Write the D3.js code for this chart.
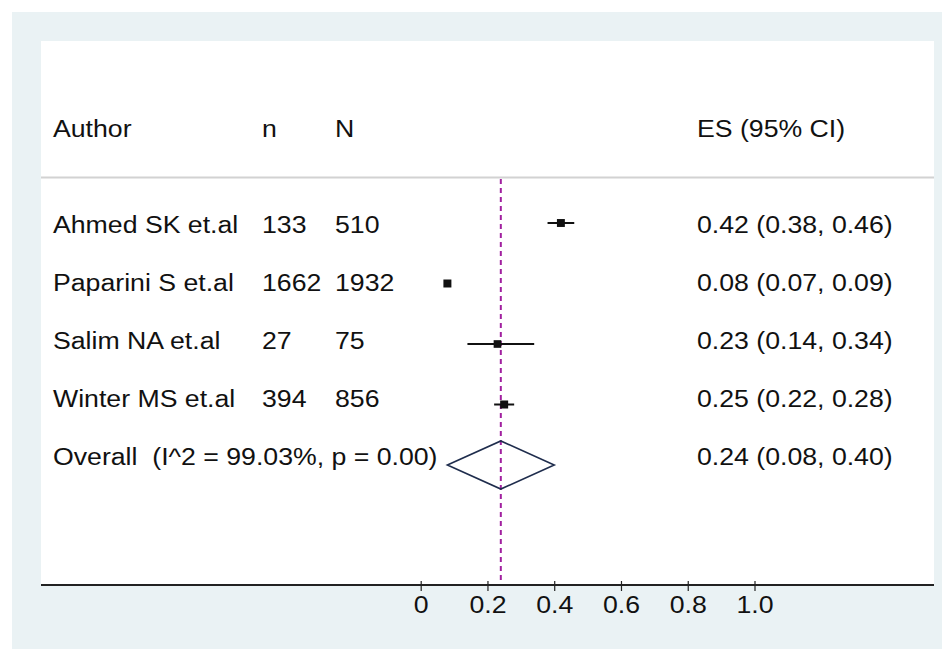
<!DOCTYPE html>
<html>
<head>
<meta charset="utf-8">
<script src="https://cdn.jsdelivr.net/npm/d3@7"></script>
<style>
  html, body { margin: 0; padding: 0; background: #ffffff; }
  svg { display: block; }
  text { font-family: "Liberation Sans", Arial, sans-serif; fill: #111; white-space: pre; }
</style>
</head>
<body>
<svg id="chart" width="942" height="649"></svg>
<script>
// ---------- data ----------
const authors = ["Ahmed SK et.al", "Paparini S et.al", "Salim NA et.al", "Winter MS et.al"];
const nCases = [133, 1662, 27, 394];
const nTotal = [510, 1932, 75, 856];
const es = [0.42, 0.08, 0.23, 0.25];
const ciLow = [0.38, 0.07, 0.14, 0.22];
const ciHigh = [0.46, 0.09, 0.34, 0.28];
const weights = [25.2, 25.6, 23.5, 25.7];
const overallLabel = "Overall  (I^2 = 99.03%, p = 0.00)";
const overallES = 0.24, overallLow = 0.08, overallHigh = 0.40;
const headers = ["Author", "n", "N", "ES (95% CI)"];
const tickValues = [0, 0.2, 0.4, 0.6, 0.8, 1.0];
const tickLabels = ["0", "0.2", "0.4", "0.6", "0.8", "1.0"];

// ---------- layout ----------
const W = 942, H = 649;
const svg = d3.select("#chart");
const SX = 1.16;           // horizontal stretch of glyphs in the reference
const FS = 23;

svg.append("rect").attr("x", 12).attr("y", 12).attr("width", W - 12).attr("height", H - 12).attr("fill", "#eaf2f4");
const plotL = 41, plotR = 934, plotT = 41, axisY = 585;
svg.append("rect").attr("x", plotL).attr("y", plotT).attr("width", plotR - plotL).attr("height", axisY - plotT).attr("fill", "#ffffff");

const x = d3.scaleLinear().domain([0, 1]).range([420.7, 754.5]);

const rowIdx = d3.range(authors.length + 1);
const yText = d3.scalePoint().domain(rowIdx).range([233, 465]);   // text baselines
const yMark = d3.scalePoint().domain(rowIdx).range([223, 465]);   // marker centres

function txt(g, s, px, py) {
  return g.append("text")
    .attr("transform", `translate(${px},${py}) scale(${SX},1)`)
    .attr("font-size", FS)
    .text(s);
}

// column x positions
const colX = [53, 262, 335, 697];

// header
headers.forEach((h, i) => txt(svg, h, colX[i], 137));

// separator
svg.append("line").attr("x1", plotL).attr("x2", plotR).attr("y1", 177.5).attr("y2", 177.5)
  .attr("stroke", "#d2d2d2").attr("stroke-width", 2);

// overall dashed line
svg.append("line")
  .attr("x1", x(overallES)).attr("x2", x(overallES))
  .attr("y1", 179).attr("y2", axisY)
  .attr("stroke", "#a1209f").attr("stroke-width", 2).attr("stroke-dasharray", "5,4");

// study rows
const fmt = d3.format(".2f");
authors.forEach((a, i) => {
  txt(svg, a, colX[0], yText(i));
  txt(svg, String(nCases[i]), colX[1], yText(i));
  txt(svg, String(nTotal[i]), colX[2], yText(i));
  txt(svg, `${fmt(es[i])} (${fmt(ciLow[i])}, ${fmt(ciHigh[i])})`, colX[3], yText(i));
});

const size = d3.scaleSqrt().domain([0, d3.max(weights)]).range([0, 8]);

const marks = svg.append("g");
marks.selectAll("line.ci").data(authors).join("line")
  .attr("class", "ci")
  .attr("x1", (d, i) => x(ciLow[i])).attr("x2", (d, i) => x(ciHigh[i]))
  .attr("y1", (d, i) => yMark(i)).attr("y2", (d, i) => yMark(i))
  .attr("stroke", "#111").attr("stroke-width", 2);
marks.selectAll("rect.pt").data(authors).join("rect")
  .attr("class", "pt")
  .attr("x", (d, i) => x(es[i]) - size(weights[i]) / 2)
  .attr("y", (d, i) => yMark(i) - size(weights[i]) / 2)
  .attr("width", (d, i) => size(weights[i]))
  .attr("height", (d, i) => size(weights[i]))
  .attr("fill", "#111");

// overall row
const oi = authors.length;
txt(svg, overallLabel, colX[0], yText(oi));
txt(svg, `${fmt(overallES)} (${fmt(overallLow)}, ${fmt(overallHigh)})`, colX[3], yText(oi));
const dy = 24, cy = yMark(oi);
svg.append("path")
  .attr("d", `M${x(overallLow)},${cy} L${x(overallES)},${cy - dy} L${x(overallHigh)},${cy} L${x(overallES)},${cy + dy} Z`)
  .attr("fill", "none").attr("stroke", "#1f2d4d").attr("stroke-width", 1.6);

// axis
svg.append("line").attr("x1", plotL).attr("x2", plotR).attr("y1", axisY).attr("y2", axisY)
  .attr("stroke", "#222").attr("stroke-width", 1.8);
const axis = d3.axisBottom(x).tickValues(tickValues).tickSize(6).tickFormat((d, i) => tickLabels[i]);
const ag = svg.append("g").attr("transform", `translate(0,${axisY})`).call(axis);
ag.select(".domain").remove();
ag.selectAll(".tick line").attr("y1", -4).attr("y2", 6).attr("stroke", "#222").attr("stroke-width", 1.2);
ag.selectAll(".tick text").remove();
ag.selectAll(".tick").append("text")
  .attr("transform", `translate(0,28) scale(${SX},1)`)
  .attr("text-anchor", "middle")
  .attr("font-size", FS)
  .attr("fill", "#111")
  .text((d, i) => tickLabels[i]);
</script>
</body>
</html>
